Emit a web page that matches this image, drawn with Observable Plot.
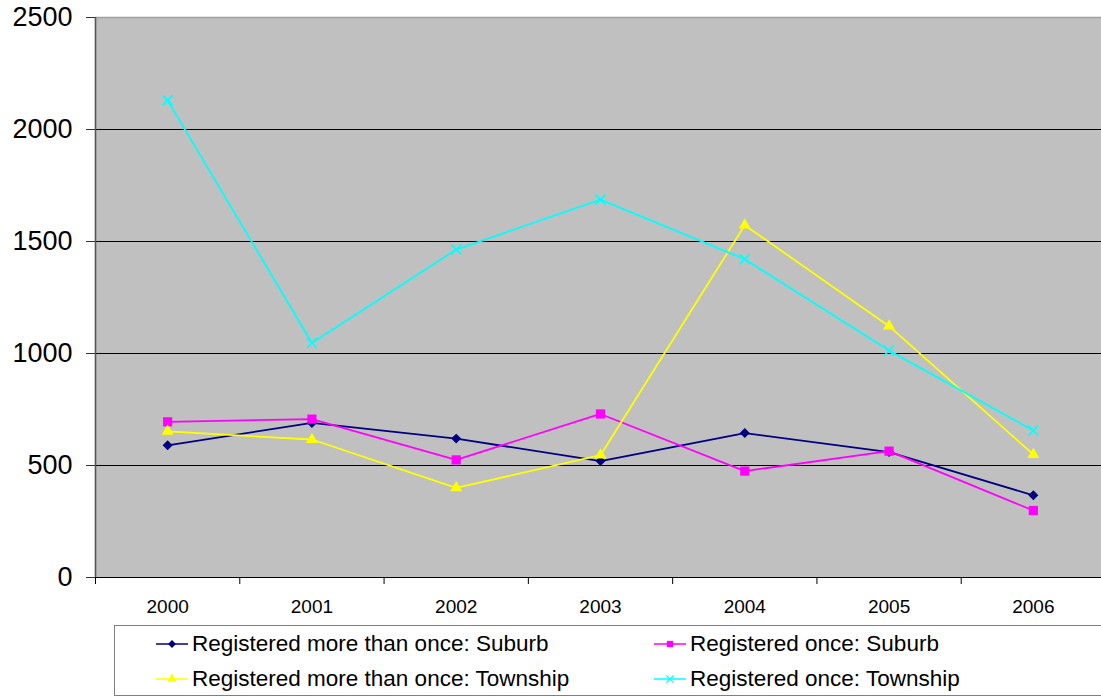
<!DOCTYPE html>
<html>
<head>
<meta charset="utf-8">
<script src="https://cdn.jsdelivr.net/npm/d3@7"></script>
<script src="https://cdn.jsdelivr.net/npm/@observablehq/plot@0.6"></script>
<style>
  html, body { margin: 0; padding: 0; background: #ffffff; overflow: hidden; }
  body { width: 1101px; height: 696px; position: relative; font-family: "Liberation Sans", Arial, sans-serif; }
  #chart { position: absolute; left: 0; top: 0; }
  #legend {
    position: absolute; left: 114px; top: 625px; width: 1010px; height: 71px;
    box-sizing: border-box; border: 1px solid #808080; background: #ffffff;
  }
  .entry { position: absolute; display: flex; align-items: center; height: 26px;
    font-size: 22.5px; color: #000; white-space: nowrap; }
  .entry svg { margin-right: 4px; }
</style>
</head>
<body>
<div id="chart"></div>
<div id="legend"></div>
<script>
// Years on the category axis
const years = [2000, 2001, 2002, 2003, 2004, 2005, 2006];

// Series values, one array per series
const moreSuburb   = [590, 690, 620, 520, 645, 560, 367];
const onceSuburb   = [695, 707, 525, 730, 475, 564, 299];
const moreTownship = [652, 616, 400, 546, 1573, 1122, 549];
const onceTownship = [2130, 1047, 1464, 1687, 1421, 1013, 656];

// Value-axis tick labels
const yTicks = [0, 500, 1000, 1500, 2000, 2500];

const series = [
  {name: "Registered more than once: Suburb",   values: moreSuburb,   color: "#000080", symbol: "diamond2", filled: true,  r: 4.5, d3sym: d3.symbolDiamond2},
  {name: "Registered once: Suburb",             values: onceSuburb,   color: "#ff00ff", symbol: "square",   filled: true,  r: 5.2, d3sym: d3.symbolSquare},
  {name: "Registered more than once: Township", values: moreTownship, color: "#ffff00", symbol: "triangle", filled: true,  r: 4.4, d3sym: d3.symbolTriangle},
  {name: "Registered once: Township",           values: onceTownship, color: "#00ffff", symbol: "times",    filled: false, r: 4.6, d3sym: d3.symbolTimes}
];

const rows = series.flatMap(s => years.map((year, i) => ({series: s.name, year, value: s.values[i]})));

// Category boundaries (tick marks sit between the years)
const edges = [...years.map(y => y - 0.5), years[years.length - 1] + 0.5];

const marks = [
  Plot.frame({fill: "#c0c0c0", stroke: null}),
  Plot.gridY(yTicks.filter(v => v > 0 && v < 2500), {stroke: "#000", strokeOpacity: 1, strokeWidth: 1.2}),
  Plot.ruleY([2500], {stroke: "#a0a0a0", strokeWidth: 1.5}),
  Plot.ruleY([0], {stroke: "#000", strokeWidth: 1.2}),
  Plot.axisX({ticks: edges, tickSize: 7, tickFormat: () => "", stroke: "#000", label: null}),
  Plot.ruleX([edges[0]], {stroke: "#555", strokeWidth: 1.6}),
  Plot.axisY({ticks: yTicks, tickSize: 9, tickPadding: 14, fontSize: 27, fill: "#000", stroke: "#333", tickFormat: d => String(d), label: null}),
  Plot.axisX({ticks: years, tickSize: 0, tickPadding: 22, fontSize: 19, fill: "#000", tickFormat: d => String(d), label: null})
];

for (const s of series) {
  const data = rows.filter(d => d.series === s.name);
  marks.push(Plot.line(data, {x: "year", y: "value", stroke: s.color, strokeWidth: 1.8}));
  marks.push(Plot.dot(data, s.filled
    ? {x: "year", y: "value", symbol: () => s.symbol, fill: s.color, stroke: null, r: s.r}
    : {x: "year", y: "value", symbol: () => s.symbol, stroke: s.color, strokeWidth: 1.6, r: s.r}));
}

const chart = Plot.plot({
  width: 1101,
  height: 620,
  marginLeft: 95,
  marginRight: 0,
  marginTop: 17,
  marginBottom: 43,
  style: {fontFamily: "'Liberation Sans', Arial, sans-serif", background: "transparent", overflow: "visible"},
  x: {type: "linear", domain: [edges[0], edges[edges.length - 1]], range: [95, 1105], axis: null, label: null},
  y: {domain: [0, 2500], axis: null, label: null},
  symbol: {type: "identity"},
  marks
});
document.getElementById("chart").appendChild(chart);

// Legend: two columns, two rows
const legend = d3.select("#legend");
const positions = [[41, 5], [539, 5], [41, 40], [539, 40]];
series.forEach((s, k) => {
  const [left, top] = positions[k];
  const entry = legend.append("div").attr("class", "entry")
    .style("left", left + "px").style("top", top + "px");
  const sw = entry.append("svg").attr("width", 32).attr("height", 14);
  sw.append("line").attr("x1", 0).attr("x2", 32).attr("y1", 7).attr("y2", 7)
    .attr("stroke", s.color).attr("stroke-width", 1.5);
  const path = d3.symbol(s.d3sym, s.filled ? 40 : 36)();
  sw.append("path").attr("d", path).attr("transform", "translate(16,7)")
    .attr("fill", s.filled ? s.color : "none")
    .attr("stroke", s.filled ? "none" : s.color).attr("stroke-width", 1.4);
  entry.append("span").text(s.name);
});
</script>
</body>
</html>
